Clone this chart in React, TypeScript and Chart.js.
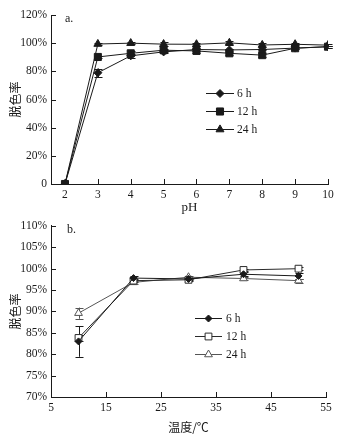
import React, { useEffect, useRef } from 'react';
import { Chart, registerables } from 'chart.js';
import { drawPoint } from 'chart.js/helpers';

Chart.register(...registerables);

// ---------- Data: panel a (pH) ----------
const phValues = [2, 3, 4, 5, 6, 7, 8, 9, 10];
const phRate6h = [0, 79, 91, 93.8, 95.5, 95.2, 95.5, 96.5, 97.5];
const phRate12h = [0, 90.2, 92.8, 95, 94.5, 92.8, 91.5, 96.4, 97.5];
const phRate24h = [0, 99.4, 100, 99.3, 99.2, 100.2, 98.7, 99.2, 98.6];
const phErr6h = [0, 3, 1.2, 1, 1, 0.6, 0.6, 0.6, 0.6];
const phErr12h = [0, 0.6, 1.5, 1.2, 1.2, 1.2, 1.2, 0.6, 0.6];
const phErr24h = [0, 0.6, 0.6, 1.2, 1.2, 1.2, 1.2, 0.6, 0.6];
const phYTicks = [0, 20, 40, 60, 80, 100, 120];

// ---------- Data: panel b (temperature) ----------
const tempValues = [10, 20, 30, 40, 50];
const tempRate6h = [83.0, 97.8, 97.6, 98.7, 98.3];
const tempRate12h = [83.8, 97.2, 97.4, 99.7, 100.0];
const tempRate24h = [89.6, 96.8, 98.0, 97.7, 97.2];
const tempErr6h = [3.6, 0.5, 0.3, 0.5, 0.6];
const tempErr12h = [0.8, 0.3, 0.3, 0.3, 0.3];
const tempErr24h = [1.3, 0.3, 0.3, 0.4, 0.5];
const tempXTicks = [5, 15, 25, 35, 45, 55];
const tempYTicks = [70, 75, 80, 85, 90, 95, 100, 105, 110];

const seriesLabels = ['6 h', '12 h', '24 h'];
const yTitle = '脱色率';
const phTitle = 'pH';
const tempTitle = '温度/℃';

const SERIF = "'Liberation Serif', 'Times New Roman', serif";
const CJK = "'Noto Sans CJK SC', 'Noto Sans', sans-serif";
const INK = '#1a1a1a';

const innerTicks = {
  id: 'innerTicks',
  afterDraw(chart: any) {
    const { ctx, chartArea } = chart;
    const x = chart.scales.x;
    const y = chart.scales.y;
    ctx.save();
    ctx.strokeStyle = INK;
    ctx.lineWidth = 1;
    ctx.beginPath();
    x.ticks.forEach((t: any) => {
      const px = Math.round(x.getPixelForValue(t.value)) + 0.5;
      ctx.moveTo(px, chartArea.bottom);
      ctx.lineTo(px, chartArea.bottom - 5);
    });
    y.ticks.forEach((t: any) => {
      const py = Math.round(y.getPixelForValue(t.value)) + 0.5;
      ctx.moveTo(chartArea.left, py);
      ctx.lineTo(chartArea.left + 5, py);
    });
    ctx.stroke();
    ctx.restore();
  },
};

const errorBars = {
  id: 'errorBars',
  beforeDatasetsDraw(chart: any) {
    const { ctx } = chart;
    const x = chart.scales.x;
    const y = chart.scales.y;
    ctx.save();
    ctx.lineWidth = 1;
    chart.data.datasets.forEach((ds: any) => {
      const errs: number[] = ds.errors || [];
      ctx.strokeStyle = ds.borderColor;
      ds.data.forEach((p: any, i: number) => {
        const e = errs[i];
        if (!e) return;
        const px = Math.round(x.getPixelForValue(p.x)) + 0.5;
        const top = y.getPixelForValue(p.y + e);
        const bot = y.getPixelForValue(p.y - e);
        ctx.beginPath();
        ctx.moveTo(px, top);
        ctx.lineTo(px, bot);
        ctx.moveTo(px - 4, Math.round(top) + 0.5);
        ctx.lineTo(px + 4, Math.round(top) + 0.5);
        ctx.moveTo(px - 4, Math.round(bot) + 0.5);
        ctx.lineTo(px + 4, Math.round(bot) + 0.5);
        ctx.stroke();
      });
    });
    ctx.restore();
  },
};

const customLegend = {
  id: 'customLegend',
  afterDraw(chart: any, _args: any, opts: any) {
    if (!opts || !opts.ys) return;
    const { ctx } = chart;
    ctx.save();
    chart.data.datasets.forEach((ds: any, i: number) => {
      const yy = opts.ys[i] + 0.5;
      ctx.strokeStyle = ds.borderColor;
      ctx.lineWidth = 1;
      ctx.beginPath();
      ctx.moveTo(opts.x1, yy);
      ctx.lineTo(opts.x2, yy);
      ctx.stroke();
      ctx.fillStyle = ds.backgroundColor;
      ctx.strokeStyle = ds.borderColor;
      drawPoint(ctx, { pointStyle: ds.pointStyle, radius: ds.pointRadius, rotation: 0, borderWidth: 1 } as any, (opts.x1 + opts.x2) / 2, yy);
      ctx.fillStyle = INK;
      ctx.font = `11.5px ${SERIF}`;
      ctx.textBaseline = 'middle';
      ctx.textAlign = 'left';
      ctx.fillText(ds.label, opts.textX, yy);
    });
    if (opts.panel) {
      ctx.fillStyle = INK;
      ctx.font = `12px ${SERIF}`;
      ctx.textBaseline = 'middle';
      ctx.textAlign = 'left';
      ctx.fillText(opts.panel, chart.chartArea.left + opts.panelDx, chart.chartArea.top + opts.panelDy);
    }
    ctx.restore();
  },
};

function makeDataset(label: string, xs: number[], ys: number[], errs: number[], style: string, radius: number, fill: string, color: string) {
  return {
    label,
    data: xs.map((x, i) => ({ x, y: ys[i] })),
    errors: errs,
    borderColor: color,
    backgroundColor: fill,
    pointBackgroundColor: fill,
    pointBorderColor: color,
    pointStyle: style,
    pointRadius: radius,
    pointBorderWidth: 1,
    borderWidth: 1,
    fill: false,
    tension: 0,
  };
}

function tickFont() {
  return { family: SERIF, size: 11.5 };
}

function PhChart() {
  const ref = useRef<HTMLCanvasElement>(null);
  useEffect(() => {
    const chart = new Chart(ref.current!, {
      type: 'line',
      data: {
        datasets: [
          makeDataset(seriesLabels[0], phValues, phRate6h, phErr6h, 'rectRot', 4, INK, INK),
          makeDataset(seriesLabels[1], phValues, phRate12h, phErr12h, 'rect', 5, INK, INK),
          makeDataset(seriesLabels[2], phValues, phRate24h, phErr24h, 'triangle', 4.6, INK, INK),
        ] as any,
      },
      options: {
        responsive: false,
        animation: false,
        layout: { padding: { top: 15, right: 34, left: 0, bottom: 0 } },
        plugins: {
          legend: { display: false },
          tooltip: { enabled: false },
          customLegend: { x1: 206, x2: 234, textX: 237, ys: [93, 111, 129], panel: 'a.', panelDx: 14, panelDy: 4 },
        } as any,
        scales: {
          x: {
            type: 'linear',
            min: 1.575,
            max: 10,
            afterBuildTicks: (s: any) => { s.ticks = phValues.map((v) => ({ value: v })); },
            afterFit: (s: any) => { s.height = 31; },
            grid: { drawOnChartArea: false, drawTicks: false },
            border: { display: true, color: INK, width: 1 },
            ticks: { font: tickFont(), color: INK, padding: 4, maxRotation: 0, autoSkip: false },
            title: { display: true, text: phTitle, font: { family: SERIF, size: 13 }, color: INK, padding: { top: 0, bottom: 0 } },
          },
          y: {
            type: 'linear',
            min: 0,
            max: 120,
            afterBuildTicks: (s: any) => { s.ticks = phYTicks.map((v) => ({ value: v })); },
            afterFit: (s: any) => { s.width = 51; },
            grid: { drawOnChartArea: false, drawTicks: false },
            border: { display: true, color: INK, width: 1 },
            ticks: { font: tickFont(), color: INK, padding: 4, callback: (v: any) => (v === 0 ? '0' : v + '%') },
            title: { display: true, text: yTitle, font: { family: CJK, size: 12 }, color: INK, padding: { top: 8, bottom: 0 } },
          },
        },
      } as any,
      plugins: [innerTicks, errorBars, customLegend],
    });
    return () => chart.destroy();
  }, []);
  return <canvas ref={ref} width={362} height={215} style={{ display: 'block', width: 362, height: 215 }} />;
}

function TempChart() {
  const ref = useRef<HTMLCanvasElement>(null);
  useEffect(() => {
    const chart = new Chart(ref.current!, {
      type: 'line',
      data: {
        datasets: [
          makeDataset(seriesLabels[0], tempValues, tempRate6h, tempErr6h, 'rectRot', 3.5, INK, INK),
          makeDataset(seriesLabels[1], tempValues, tempRate12h, tempErr12h, 'rect', 4.8, '#ffffff', '#2a2a2a'),
          makeDataset(seriesLabels[2], tempValues, tempRate24h, tempErr24h, 'triangle', 4.5, '#ffffff', '#555555'),
        ] as any,
      },
      options: {
        responsive: false,
        animation: false,
        layout: { padding: { top: 5, right: 36, left: 0, bottom: 0 } },
        plugins: {
          legend: { display: false },
          tooltip: { enabled: false },
          customLegend: { x1: 195, x2: 222, textX: 226, ys: [103, 121, 139], panel: 'b.', panelDx: 16, panelDy: 4 },
        } as any,
        scales: {
          x: {
            type: 'linear',
            min: 5,
            max: 55,
            afterBuildTicks: (s: any) => { s.ticks = tempXTicks.map((v) => ({ value: v })); },
            afterFit: (s: any) => { s.height = 41; },
            grid: { drawOnChartArea: false, drawTicks: false },
            border: { display: true, color: INK, width: 1 },
            ticks: { font: tickFont(), color: INK, padding: 4, maxRotation: 0, autoSkip: false },
            title: { display: true, text: tempTitle, font: { family: CJK, size: 12 }, color: INK, padding: { top: 0, bottom: 3 } },
          },
          y: {
            type: 'linear',
            min: 70,
            max: 110,
            afterBuildTicks: (s: any) => { s.ticks = tempYTicks.map((v) => ({ value: v })); },
            afterFit: (s: any) => { s.width = 51; },
            grid: { drawOnChartArea: false, drawTicks: false },
            border: { display: true, color: INK, width: 1 },
            ticks: { font: tickFont(), color: INK, padding: 4, callback: (v: any) => v + '%' },
            title: { display: true, text: yTitle, font: { family: CJK, size: 12 }, color: INK, padding: { top: 8, bottom: 0 } },
          },
        },
      } as any,
      plugins: [innerTicks, errorBars, customLegend],
    });
    return () => chart.destroy();
  }, []);
  return <canvas ref={ref} width={362} height={223} style={{ display: 'block', width: 362, height: 223 }} />;
}

export default function App() {
  return (
    <div style={{ position: 'absolute', left: 0, top: 0, width: 362, height: 438, background: '#ffffff' }}>
      <PhChart />
      <TempChart />
    </div>
  );
}
